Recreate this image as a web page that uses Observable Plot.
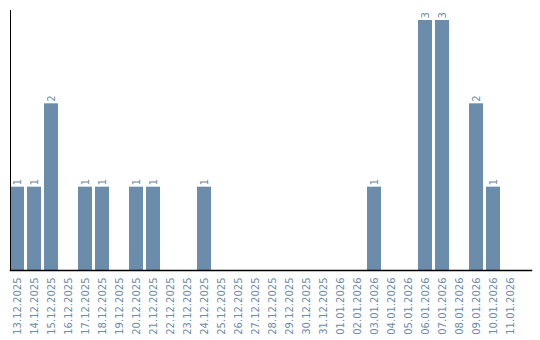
<!DOCTYPE html>
<html><head><meta charset="utf-8">
<script src="https://cdn.jsdelivr.net/npm/d3@7"></script>
<script src="https://cdn.jsdelivr.net/npm/@observablehq/plot@0.6"></script>
<style>body{margin:0;background:#fff}</style>
</head><body><div id="chart"></div>
<script>
const dates = ["13.12.2025","14.12.2025","15.12.2025","16.12.2025","17.12.2025","18.12.2025","19.12.2025","20.12.2025","21.12.2025","22.12.2025","23.12.2025","24.12.2025","25.12.2025","26.12.2025","27.12.2025","28.12.2025","29.12.2025","30.12.2025","31.12.2025","01.01.2026","02.01.2026","03.01.2026","04.01.2026","05.01.2026","06.01.2026","07.01.2026","08.01.2026","09.01.2026","10.01.2026","11.01.2026"];
const counts = [1,1,2,0,1,1,0,1,1,0,0,1,0,0,0,0,0,0,0,0,0,1,0,0,3,3,0,2,1,0];
const data = dates.map((d,i)=>({date:d, value:counts[i]}));
const color = "#6b8caa";
const chart = Plot.plot({
  width:540, height:340,
  marginLeft:10, marginRight:9, marginTop:10, marginBottom:70,
  style:{fontFamily:"'DejaVu Sans', sans-serif", fontSize:"10px", background:"#fff"},
  x:{domain:dates, range:[10,517], paddingInner:0.18, paddingOuter:0, label:null},
  y:{domain:[0,3.12], axis:null},
  marks:[
    Plot.barY(data.filter(d=>d.value>0), {x:"date", y:"value", fill:color}),
    Plot.text(data.filter(d=>d.value>0), {x:"date", y:"value", text:d=>String(d.value), rotate:-90, textAnchor:"start", dy:-2, fill:color, fontSize:10}),
    Plot.axisX({tickSize:0, tickPadding:7, tickRotate:-90, fill:color, label:null, fontSize:10}),
    Plot.frame({anchor:"left", stroke:"#000"}),
    Plot.frame({anchor:"bottom", stroke:"#000", strokeWidth:1.5})
  ]
});
document.getElementById("chart").append(chart);
</script></body></html>
